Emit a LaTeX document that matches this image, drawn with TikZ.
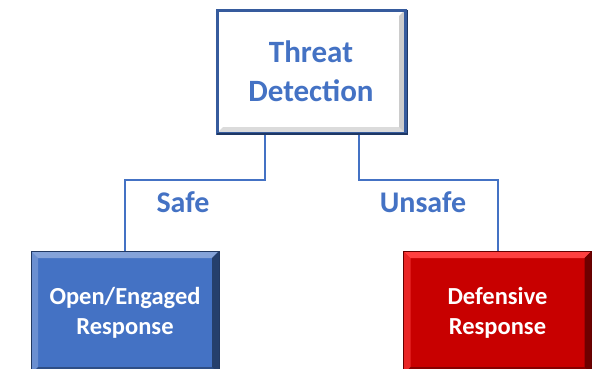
\documentclass[tikz,border=0pt]{standalone}
\usepackage{fontspec}
\setmainfont{Carlito}
\definecolor{tdblue}{HTML}{4472C4}
\definecolor{tdnavy}{HTML}{1F3864}
\definecolor{tdred}{HTML}{C80000}
\begin{document}
\begin{tikzpicture}[x=1pt,y=-1pt,
    box/.style={minimum width=188pt,minimum height=123pt,inner sep=0pt,align=center},
    bevel/.style n args={3}{path picture={
        \fill[#1] (path picture bounding box.north west) -- (path picture bounding box.north east)
            -- ([shift={(-#3,-#3)}]path picture bounding box.north east) -- ([shift={(#3,-#3)}]path picture bounding box.north west) -- cycle;
        \fill[#1,opacity=0.6] (path picture bounding box.north west) -- ([shift={(#3,-#3)}]path picture bounding box.north west)
            -- ([shift={(#3,#3)}]path picture bounding box.south west) -- (path picture bounding box.south west) -- cycle;
        \fill[#2] (path picture bounding box.north east) -- (path picture bounding box.south east)
            -- ([shift={(-#3,#3)}]path picture bounding box.south east) -- ([shift={(-#3,-#3)}]path picture bounding box.north east) -- cycle;
        \fill[#2,opacity=0.7] (path picture bounding box.south west) -- (path picture bounding box.south east)
            -- ([shift={(-#3,#3)}]path picture bounding box.south east) -- ([shift={(#3,#3)}]path picture bounding box.south west) -- cycle;
    }},
    wire/.style={draw=tdblue,line width=2pt},
    branch/.style={text=tdblue,font=\fontsize{30}{36}\selectfont\bfseries,anchor=base}]
    \useasboundingbox (0,0) rectangle (597,368);
    \clip (0,0) rectangle (597,368);

    \node[box,fill=white,draw=tdblue!80!black,line width=3pt,bevel={white}{gray!40}{6pt},
        text=tdblue,font=\fontsize{31}{39}\selectfont\bfseries] (detect) at (311,71.5) {Threat\\Detection};
    \draw[tdnavy,line width=1.5pt] ([shift={(0.75pt,-1pt)}]detect.north east) -- ([shift={(0.75pt,0.75pt)}]detect.south east)
        -- ([shift={(1pt,0.75pt)}]detect.south west);

    \node[box,fill=tdblue,draw=tdblue!50!black,line width=1pt,bevel={tdblue!65!white}{tdblue!55!black}{7pt},
        text=white,font=\fontsize{24.5}{30}\selectfont\bfseries] (open) at (125,312.5) {Open/Engaged\\Response};
    \node[box,fill=tdred,draw=tdred!50!black,line width=1pt,bevel={red!75!white}{tdred!55!black}{7pt},
        text=white,font=\fontsize{24.5}{30}\selectfont\bfseries] (defend) at (497.5,312.5) {Defensive\\Response};

    \draw[wire] ([xshift=-46pt]detect.south) -- ++(0,45) -| (open.north);
    \draw[wire] ([xshift=48pt]detect.south) -- ++(0,45) -| (defend.north);

    \node[branch] (safe) at (183,212) {Safe};
    \node[branch] (unsafe) at (423,212) {Unsafe};
\end{tikzpicture}
\end{document}
